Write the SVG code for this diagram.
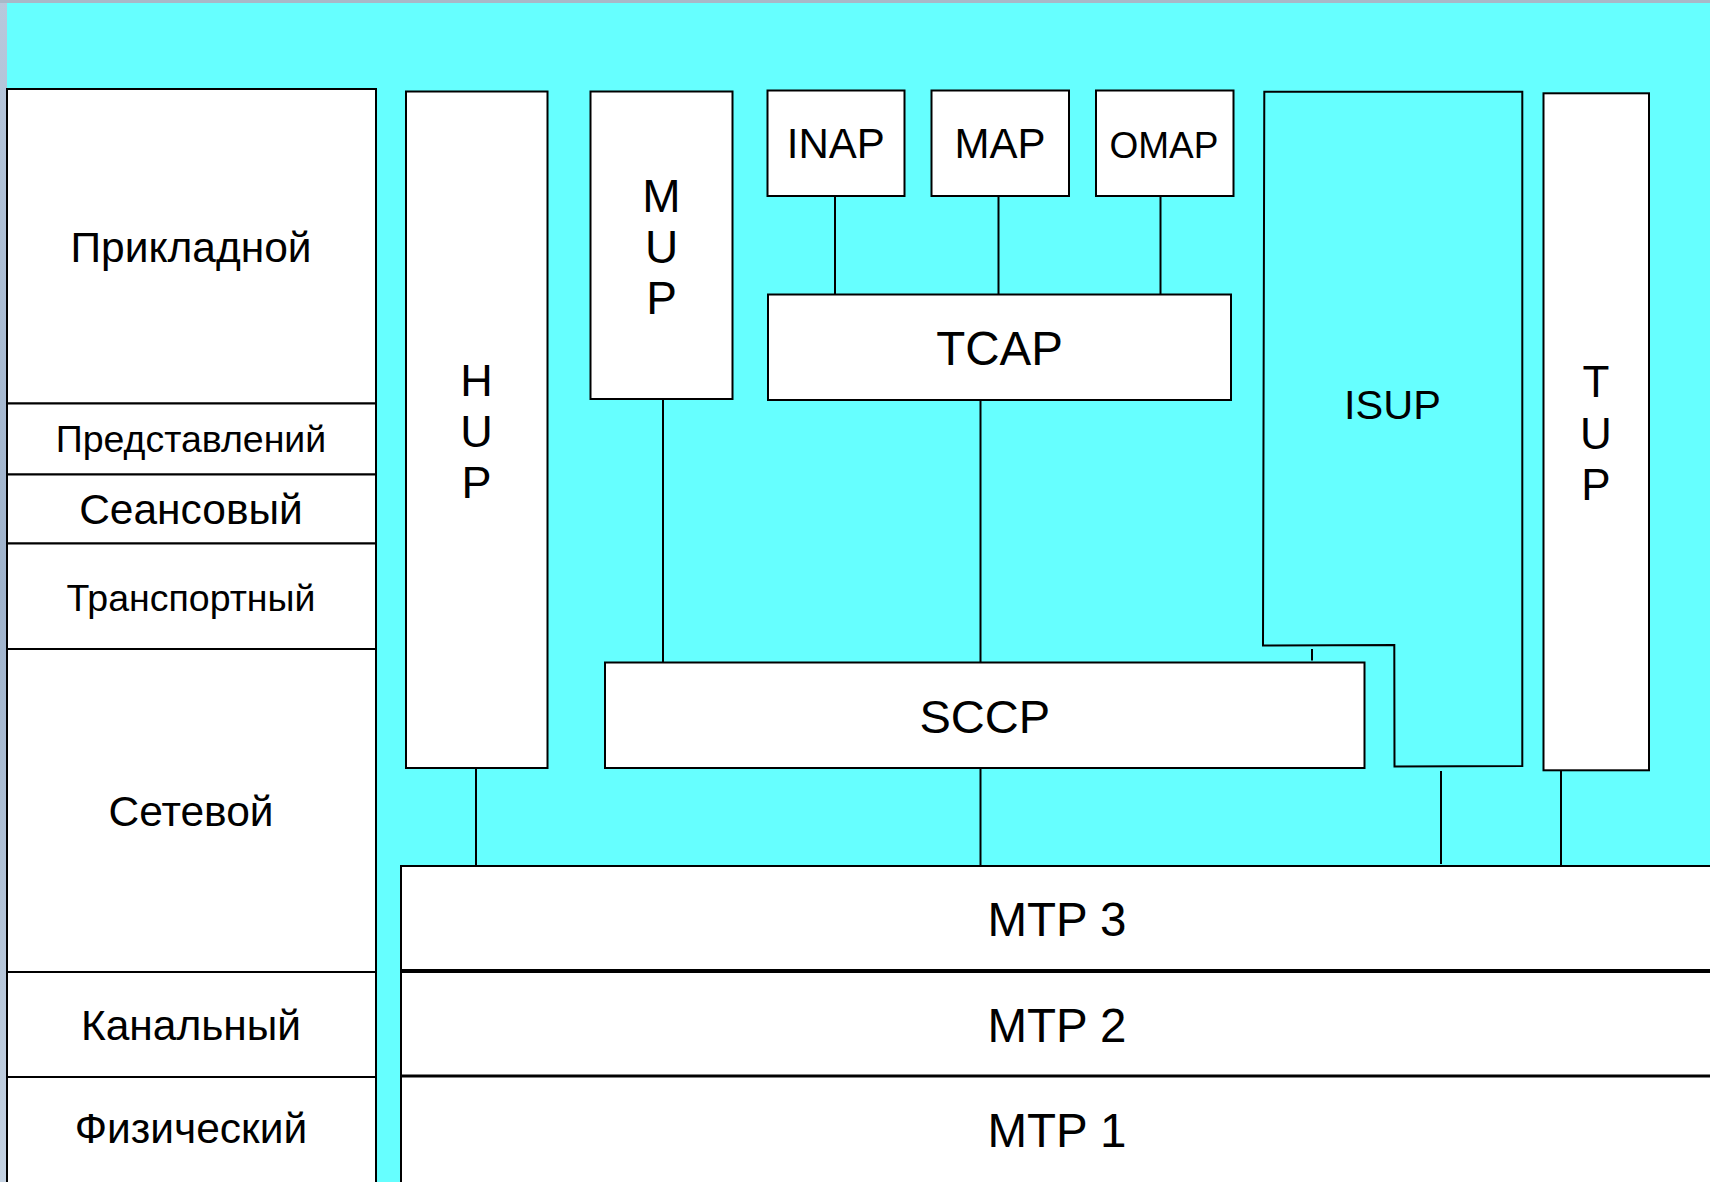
<svg xmlns="http://www.w3.org/2000/svg" width="1710" height="1182" viewBox="0 0 1710 1182">
<style>
.box{fill:#fff;stroke:#000;stroke-width:2}
.ln{stroke:#000;stroke-width:2;fill:none}
text{font-family:"Liberation Sans",Arial,sans-serif;fill:#000;text-anchor:middle}
</style>
<defs>
<linearGradient id="edge" x1="0" y1="0" x2="0" y2="1">
<stop offset="0" stop-color="#b8c8dc"/><stop offset="0.5" stop-color="#9fb3cc"/><stop offset="1" stop-color="#c4d2e2"/>
</linearGradient>
</defs>
<rect x="0" y="0" width="1710" height="1182" fill="#66ffff"/>
<rect x="0" y="0" width="7" height="1182" fill="url(#edge)"/>
<rect x="0" y="0" width="1710" height="3" fill="#a8b8c8"/>

<g id="osi">
<g id="osi-app"><rect class="box" x="7" y="89" width="369" height="314.5"/><text x="191" y="262" font-size="42.5">Прикладной</text></g>
<g id="osi-pres"><rect class="box" x="7" y="403.5" width="369" height="71"/><text x="191" y="451.5" font-size="37.5">Представлений</text></g>
<g id="osi-sess"><rect class="box" x="7" y="474.5" width="369" height="69"/><text x="191" y="524" font-size="42.5">Сеансовый</text></g>
<g id="osi-trans"><rect class="box" x="7" y="543.5" width="369" height="105.5"/><text x="191" y="610.5" font-size="37.5">Транспортный</text></g>
<g id="osi-net"><rect class="box" x="7" y="649" width="369" height="323"/><text x="191" y="826" font-size="42.5">Сетевой</text></g>
<g id="osi-link"><rect class="box" x="7" y="972" width="369" height="105"/><text x="191" y="1040" font-size="42.5">Канальный</text></g>
<g id="osi-phys"><rect class="box" x="7" y="1077" width="369" height="106"/><text x="191" y="1143" font-size="42.5">Физический</text></g>
</g>

<g id="connectors">
<line class="ln" x1="476" y1="768" x2="476" y2="866"/>
<line class="ln" x1="663" y1="399" x2="663" y2="663"/>
<line class="ln" x1="835" y1="196" x2="835" y2="295"/>
<line class="ln" x1="998.5" y1="196" x2="998.5" y2="295"/>
<line class="ln" x1="1160.5" y1="196" x2="1160.5" y2="295"/>
<line class="ln" x1="980.5" y1="400" x2="980.5" y2="663"/>
<line class="ln" x1="980.5" y1="768" x2="980.5" y2="866"/>
<line class="ln" x1="1312" y1="649" x2="1312" y2="660.5"/>
<line class="ln" x1="1441" y1="771" x2="1441" y2="864"/>
<line class="ln" x1="1561" y1="770" x2="1561" y2="866"/>
</g>

<g id="hup"><rect class="box" x="406" y="91.5" width="141.5" height="676.5"/>
<text x="476.5" y="396" font-size="45">H</text><text x="476.5" y="447" font-size="45">U</text><text x="476.5" y="497.5" font-size="45">P</text></g>
<g id="mup"><rect class="box" x="590.5" y="91.5" width="142" height="307.5"/>
<text x="661.5" y="211.5" font-size="46">M</text><text x="661.5" y="262.5" font-size="46">U</text><text x="661.5" y="313.5" font-size="46">P</text></g>
<g id="inap"><rect class="box" x="767.5" y="90.5" width="137" height="105.5"/><text x="835.8" y="158.3" font-size="42">INAP</text></g>
<g id="map"><rect class="box" x="931.5" y="90.5" width="137.5" height="105.5"/><text x="1000" y="158.3" font-size="42">MAP</text></g>
<g id="omap"><rect class="box" x="1096" y="90.5" width="137.5" height="105.5"/><text x="1164" y="158.3" font-size="37">OMAP</text></g>
<g id="tcap"><rect class="box" x="768" y="294.5" width="463" height="105.5"/><text x="999.5" y="365" font-size="47.5">TCAP</text></g>
<g id="sccp"><rect class="box" x="605" y="662.5" width="759.5" height="105.5"/><text x="984.8" y="733.3" font-size="47">SCCP</text></g>
<g id="isup"><path class="ln" d="M1264.3,91.7 L1522.3,91.7 L1522.3,766 L1394.5,766.5 L1394.3,645 L1263,645.5 Z"/><text x="1392.5" y="419.3" font-size="41.5">ISUP</text></g>
<g id="tup"><rect class="box" x="1543.5" y="93.3" width="105.5" height="677"/>
<text x="1596" y="397.3" font-size="44">T</text><text x="1596" y="448.5" font-size="44">U</text><text x="1596" y="500" font-size="44">P</text></g>

<g id="mtp3"><rect class="box" x="401" y="866" width="1320" height="105"/><text x="1057" y="936" font-size="47.5">MTP 3</text></g>
<g id="mtp2"><rect class="box" x="401" y="971" width="1320" height="105"/><text x="1057" y="1041.7" font-size="47.5">MTP 2</text></g>
<g id="mtp1"><rect class="box" x="401" y="1076" width="1320" height="110"/><text x="1057" y="1146.7" font-size="47.5">MTP 1</text></g>
<line x1="401" y1="971" x2="1710" y2="971" stroke="#000" stroke-width="4"/>
<line x1="401" y1="1076" x2="1710" y2="1076" stroke="#000" stroke-width="3"/>
</svg>
